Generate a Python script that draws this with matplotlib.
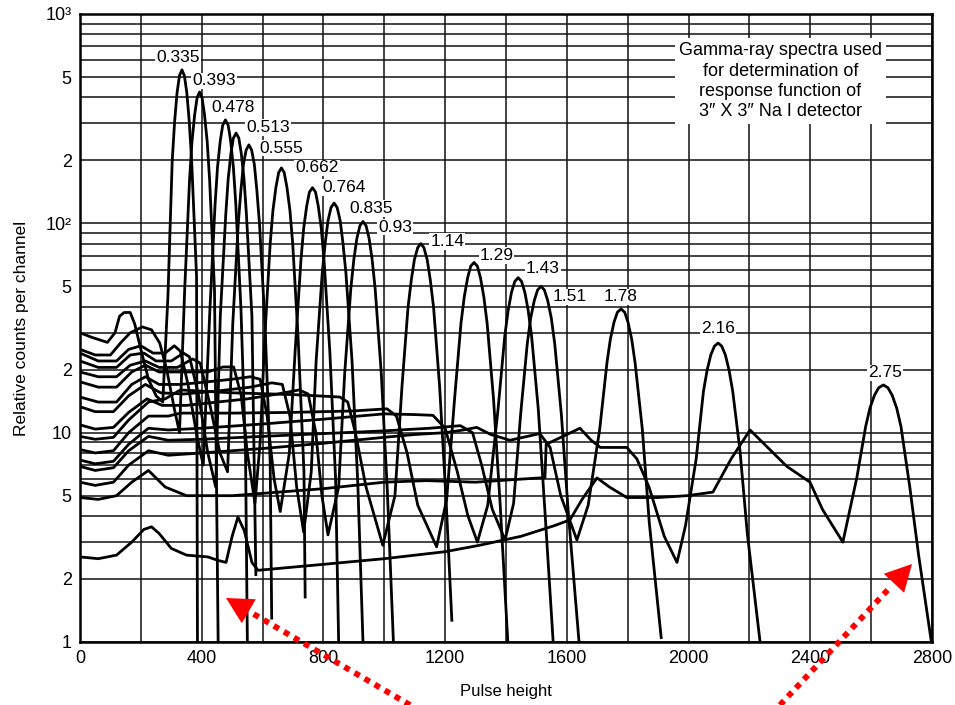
import matplotlib
matplotlib.use("Agg")
import matplotlib.pyplot as plt
from matplotlib.ticker import FixedLocator, NullFormatter
from matplotlib.patches import FancyArrowPatch
from matplotlib.lines import Line2D

plt.rcParams['font.family'] = ['Liberation Sans', 'DejaVu Sans']

# spectra: pulse height (x) and relative counts (y)
x_0335 = [0, 40, 90, 115, 130, 145, 165, 180, 200, 225, 250, 272, 289, 303, 311, 319, 327, 335, 343, 351, 359, 367, 383, 386]
y_0335 = [30, 28.5, 27, 30, 36, 37.5, 37.5, 33, 25, 18, 15, 14, 45, 198, 307, 421, 508, 541, 508, 421, 307, 198, 56, 1]

x_0393 = [0, 50, 100, 135, 165, 205, 235, 262, 285, 310, 327, 344, 360, 368, 377, 385, 393, 401, 409, 418, 426, 442, 454]
y_0393 = [25, 23.5, 23.5, 27, 30, 32, 31, 26.8, 20, 13, 10, 48, 161, 246, 332, 399, 424, 399, 332, 246, 161, 48, 1]

x_0478 = [0, 60, 120, 160, 200, 240, 280, 310, 330, 355, 385, 405, 427, 444, 452, 461, 469, 478, 487, 495, 504, 512, 529, 544, 550]
y_0478 = [24, 22, 22, 25, 26, 24, 24, 26, 24.5, 17, 9.5, 7, 39, 124, 186, 248, 294, 312, 294, 248, 186, 124, 39, 7.9, 1]

x_0513 = [0, 60, 120, 165, 210, 250, 300, 340, 360, 390, 420, 446, 461, 479, 487, 496, 504, 513, 522, 530, 539, 547, 565, 578]
y_0513 = [22, 20.5, 20.5, 23.5, 24, 22, 22, 24, 23, 15, 8, 5.5, 36, 110, 163, 216, 255, 270, 255, 216, 163, 110, 36, 2.1]

x_0555 = [0, 60, 120, 165, 215, 260, 320, 370, 395, 425, 460, 485, 502, 520, 529, 537, 546, 555, 564, 573, 581, 590, 608, 625, 630]
y_0555 = [19.5, 18.5, 18.5, 21, 22, 20.5, 20.5, 22.5, 21.5, 14, 8, 6.5, 33, 99, 145, 191, 224, 237, 224, 191, 145, 99, 33, 7.2, 1.3]

x_0662 = [0, 60, 120, 170, 215, 260, 330, 420, 470, 505, 530, 550, 575, 592, 607, 625, 634, 644, 653, 662, 671, 680, 690, 699, 717, 736, 740]
y_0662 = [17.5, 16.5, 16.5, 19.5, 21, 19.5, 19.5, 19.5, 20.6, 20.6, 15, 8, 4.6, 9, 28, 80, 115, 149, 175, 184, 175, 149, 115, 80, 28, 6.5, 1.64]

x_0764 = [0, 60, 120, 170, 215, 260, 330, 420, 500, 560, 592, 615, 638, 658, 688, 707, 726, 735, 745, 754, 764, 774, 783, 793, 802, 821, 840, 850]
y_0764 = [14.8, 14, 14, 17, 18.5, 17, 17, 17.5, 18, 18.5, 18, 12, 6, 4.2, 8, 24.5, 66.5, 94.4, 121, 141, 148, 141, 121, 94.4, 66.5, 24.5, 6, 1]

x_0835 = [0, 50, 110, 160, 215, 265, 340, 450, 560, 630, 665, 690, 712, 735, 760, 776, 796, 806, 815, 825, 835, 845, 855, 864, 874, 894, 913, 930]
y_0835 = [13.3, 12.6, 12.6, 15, 17, 15.5, 15.3, 15.8, 16.5, 17.3, 17, 12, 5.5, 3.35, 6.5, 22, 57.7, 80.9, 103, 119, 125, 119, 103, 80.9, 57.7, 22, 5.7, 1]

x_0930 = [0, 50, 110, 160, 220, 270, 350, 450, 550, 650, 720, 750, 775, 795, 815, 850, 870, 890, 900, 910, 920, 930, 940, 950, 960, 970, 990, 1010, 1030]
y_0930 = [10.9, 10.4, 10.6, 12.5, 14.5, 13.5, 13.5, 14, 14.5, 15.3, 16, 15.3, 10, 5, 3.25, 5.5, 19.3, 48.7, 67.3, 84.9, 97.5, 102, 97.5, 84.9, 67.3, 48.7, 19.3, 5.3, 1]

x_1140 = [0, 50, 110, 160, 225, 280, 330, 500, 700, 854, 880, 905, 940, 995, 1035, 1058, 1078, 1089, 1099, 1110, 1120, 1130, 1141, 1151, 1162, 1182, 1203, 1222]
y_1140 = [9.6, 9.3, 9.5, 11.5, 14, 14.5, 16, 15.5, 15.2, 14.8, 14, 10, 5.5, 2.9, 5.0, 16.5, 39.7, 53.9, 67.1, 76.6, 80, 76.6, 67.1, 53.9, 39.7, 16.5, 4.8, 1.27]

x_1290 = [0, 50, 110, 160, 225, 290, 330, 500, 700, 900, 1009, 1040, 1075, 1110, 1172, 1205, 1231, 1252, 1263, 1274, 1284, 1295, 1306, 1316, 1327, 1338, 1359, 1381, 1406]
y_1290 = [8.3, 8.0, 8.2, 10, 12, 12, 12.4, 12.4, 12.5, 12.7, 13, 12, 8, 4.5, 2.85, 4.8, 14.5, 33.3, 44.7, 55, 62.4, 65, 62.4, 55, 44.7, 33.3, 14.5, 4.5, 1]

x_1430 = [0, 50, 110, 160, 225, 290, 400, 600, 800, 1000, 1100, 1160, 1200, 1240, 1275, 1306, 1340, 1374, 1396, 1407, 1418, 1429, 1440, 1451, 1462, 1473, 1484, 1506, 1528, 1555]
y_1430 = [7.4, 7.1, 7.3, 8.8, 10.5, 10.3, 10.5, 11, 11.6, 12.3, 12.2, 12.1, 10.5, 6.5, 4, 3.0, 4.5, 13, 29, 38.3, 46.8, 52.8, 55, 52.8, 46.8, 38.3, 29, 13, 4.2, 1]

x_1510 = [0, 50, 110, 160, 225, 290, 400, 600, 800, 1000, 1150, 1250, 1290, 1320, 1355, 1397, 1425, 1448, 1470, 1481, 1493, 1504, 1515, 1526, 1537, 1549, 1560, 1582, 1605, 1640]
y_1510 = [6.9, 6.6, 6.8, 8.2, 9.6, 9.2, 9.3, 9.6, 9.9, 10.2, 10.5, 10.8, 10, 7, 4.3, 3.07, 4.6, 12.2, 26.7, 35.2, 42.8, 48.1, 50, 48.1, 42.8, 35.2, 26.7, 12.2, 4.1, 1]

x_1780 = [0, 50, 110, 160, 225, 290, 400, 600, 800, 1000, 1100, 1200, 1260, 1304, 1350, 1413, 1470, 1511, 1545, 1580, 1633, 1670, 1708, 1732, 1743, 1755, 1766, 1778, 1790, 1801, 1813, 1824, 1848, 1871, 1910]
y_1780 = [5.8, 5.6, 5.8, 7, 8.2, 7.8, 8, 8.4, 8.9, 9.5, 9.8, 10, 10.3, 10.6, 9.8, 9.2, 9.6, 9.9, 8.5, 5, 3.07, 4.5, 10.4, 21.7, 28.0, 33.7, 37.6, 39, 37.6, 33.7, 28.0, 21.7, 10.4, 3.7, 1.05]

x_2160 = [0, 60, 120, 170, 225, 280, 350, 500, 800, 1000, 1138, 1300, 1450, 1528, 1532, 1600, 1643, 1680, 1710, 1797, 1830, 1870, 1920, 1962, 1990, 2025, 2049, 2061, 2073, 2085, 2097, 2109, 2121, 2133, 2145, 2169, 2193, 2235]
y_2160 = [4.9, 4.8, 5.0, 5.8, 6.6, 5.5, 5.0, 5.0, 5.4, 5.8, 5.9, 5.8, 6.0, 6.1, 8.8, 9.8, 10.5, 9.2, 8.5, 8.5, 7.5, 5.5, 3.2, 2.4, 3.6, 7.5, 15.8, 19.9, 23.5, 25.9, 26.8, 25.9, 23.5, 19.9, 15.8, 8.2, 3.3, 1]

x_2750 = [0, 60, 120, 170, 210, 235, 260, 300, 350, 420, 455, 480, 500, 519, 540, 565, 585, 800, 1000, 1200, 1314, 1450, 1560, 1610, 1650, 1699, 1740, 1797, 1900, 1995, 2080, 2140, 2202, 2260, 2323, 2399, 2440, 2507, 2553, 2582, 2596, 2611, 2625, 2640, 2655, 2669, 2684, 2698, 2727, 2756, 2798]
y_2750 = [2.55, 2.5, 2.6, 3.0, 3.45, 3.55, 3.3, 2.8, 2.6, 2.55, 2.45, 2.4, 3.2, 3.95, 3.4, 2.4, 2.2, 2.35, 2.5, 2.7, 2.9, 3.2, 3.6, 3.83, 4.8, 6.08, 5.5, 4.9, 4.9, 5.0, 5.2, 7.5, 10.3, 8.5, 6.9, 5.8, 4.3, 3.0, 6.1, 10.7, 13.1, 15.1, 16.4, 16.9, 16.4, 15.1, 13.1, 10.7, 5.5, 2.6, 1]

spectra = [(x_0335, y_0335), (x_0393, y_0393), (x_0478, y_0478), (x_0513, y_0513),
           (x_0555, y_0555), (x_0662, y_0662), (x_0764, y_0764), (x_0835, y_0835),
           (x_0930, y_0930), (x_1140, y_1140), (x_1290, y_1290), (x_1430, y_1430),
           (x_1510, y_1510), (x_1780, y_1780), (x_2160, y_2160), (x_2750, y_2750)]

# energy labels (MeV) and where they sit
energies = ["0.335", "0.393", "0.478", "0.513", "0.555", "0.662", "0.764", "0.835",
            "0.93", "1.14", "1.29", "1.43", "1.51", "1.78", "2.16", "2.75"]
lab_x = [322, 440, 503, 618, 663, 779, 867, 957, 1035, 1207, 1369, 1521, 1608, 1777, 2097, 2645]
lab_y = [617, 479, 356, 286, 229, 184, 148, 118, 96, 82, 70, 61, 44.5, 44.5, 31.3, 19.3]

x_major = [0, 400, 800, 1200, 1600, 2000, 2400, 2800]
x_minor = [200, 600, 1000, 1400, 1800, 2200, 2600]
y_major = [1, 2, 5, 10, 20, 50, 100, 200, 500, 1000]
y_labels = ["1", "2", "5", "10", "2", "5", "10²", "2", "5", "10³"]
y_minor = [3, 4, 6, 7, 8, 9, 30, 40, 60, 70, 80, 90, 300, 400, 600, 700, 800, 900]

fig = plt.figure(figsize=(9.55, 7.05), dpi=100)
ax = fig.add_axes([80/955, 1-642/705, 852/955, 628/705])

for xs, ys in spectra:
    ax.plot(xs, ys, color='black', lw=2.0, solid_joinstyle='round', zorder=3)

ax.set_yscale('log')
ax.set_xlim(0, 2800)
ax.set_ylim(1, 1000)
ax.xaxis.set_major_locator(FixedLocator(x_major))
ax.xaxis.set_minor_locator(FixedLocator(x_minor))
ax.yaxis.set_major_locator(FixedLocator(y_major))
ax.yaxis.set_minor_locator(FixedLocator(y_minor))
ax.yaxis.set_minor_formatter(NullFormatter())
ax.set_yticklabels(y_labels)
ax.set_xticklabels([str(v) for v in x_major])
ax.tick_params(which='both', length=0, labelsize=13, pad=6)
ax.grid(True, which='both', color='#111111', lw=1.1, zorder=1)
ax.set_axisbelow(True)
for s in ax.spines.values():
    s.set_linewidth(1.8)

ax.set_xlabel("Pulse height", fontsize=12, labelpad=12)
ax.set_ylabel("Relative counts per channel", fontsize=12.5, labelpad=12)

for t, lx, ly in zip(energies, lab_x, lab_y):
    ax.text(lx, ly, t, fontsize=12.5, ha='center', va='center', zorder=4,
            bbox=dict(facecolor='white', edgecolor='none', pad=0.6))

ax.text(0.822, 0.893,
        "Gamma-ray spectra used\nfor determination of\nresponse function of\n3\u2033 X 3\u2033 Na I detector",
        transform=ax.transAxes, ha='center', va='center', fontsize=13,
        linespacing=1.25, zorder=5,
        bbox=dict(facecolor='white', edgecolor='none', pad=3))

# red dotted arrows pointing at the plot (pixel positions, y measured from top)
W, H = 955.0, 705.0
for (tx, ty), (hx, hy) in [((410, 705), (226, 598)), ((780, 705), (912, 564))]:
    dx, dy = tx - hx, ty - hy
    n = (dx * dx + dy * dy) ** 0.5
    bx, by = hx + 30 * dx / n, hy + 30 * dy / n
    fig.add_artist(Line2D([tx / W, bx / W], [1 - ty / H, 1 - by / H],
                          transform=fig.transFigure, color='red', lw=4.2,
                          ls=(0, (1, 1))))
    fig.add_artist(FancyArrowPatch((bx / W, 1 - by / H), (hx / W, 1 - hy / H),
                                   transform=fig.transFigure,
                                   arrowstyle='-|>,head_length=1.9,head_width=1.0',
                                   mutation_scale=10, color='red', lw=0,
                                   shrinkA=0, shrinkB=0))

fig.savefig("out.png", dpi=100)
